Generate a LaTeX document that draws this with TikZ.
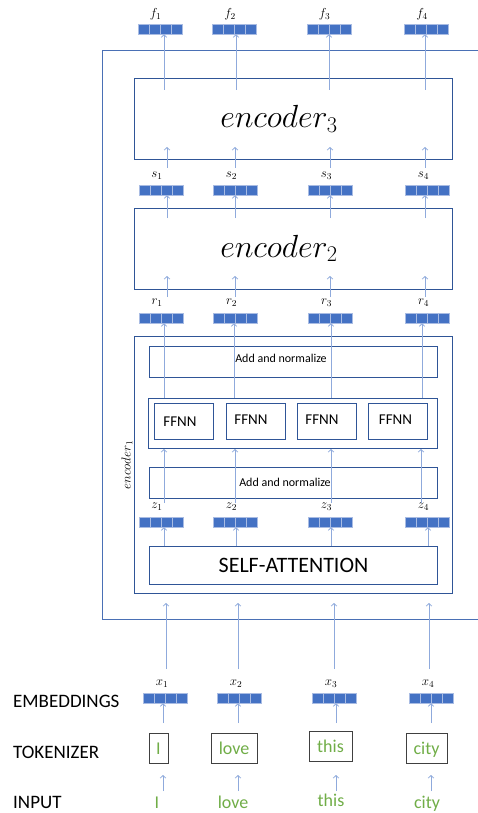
\RequirePackage{fix-cm}
\documentclass[tikz,border=0pt]{standalone}
\usepackage{fontspec}
\setmainfont{Carlito}
\usetikzlibrary{arrows.meta}
\definecolor{boxblue}{HTML}{2F5597}
\definecolor{outerblue}{HTML}{4A70B5}
\definecolor{arrblue}{HTML}{8FAADC}
\definecolor{vecblue}{HTML}{4472C4}
\definecolor{vecline}{HTML}{A9BCE3}
\definecolor{tokgreen}{HTML}{70AD47}
\definecolor{tokedge}{HTML}{404040}
\begin{document}
\begin{tikzpicture}[x=1pt,y=-1pt,
  arr/.style={draw=arrblue, line width=0.8pt, -{Straight Barb[length=2.5pt,width=5.5pt]}},
  blk/.style={draw=boxblue, line width=1pt, inner sep=0pt, anchor=north west},
  vec/.style={draw=vecline, fill=vecblue, line width=0.6pt, minimum width=44pt, minimum height=10pt, inner sep=0pt,
    path picture={\foreach \k in {1,2,3}{\draw[vecline, line width=0.7pt] ([xshift=\k*11pt]path picture bounding box.south west) -- ([xshift=\k*11pt]path picture bounding box.north west);}}},
  lab/.style={font=\fontsize{13}{15}\selectfont, inner sep=0pt},
  enctext/.style={font=\fontsize{32}{38}\selectfont, inner sep=0pt, anchor=base},
  addtext/.style={font=\fontsize{12}{14}\selectfont, inner sep=0pt},
  fftext/.style={font=\fontsize{15}{18}\selectfont, inner sep=0pt},
  side/.style={font=\fontsize{19}{22}\selectfont, inner sep=0pt, anchor=base west},
  tok/.style={draw=tokedge, line width=1pt, inner sep=0pt, text=tokgreen, font=\fontsize{18}{21}\selectfont, text height=12.4pt, text depth=0pt},
  word/.style={text=tokgreen, font=\fontsize{18}{21}\selectfont, inner sep=0pt, anchor=base}
]
\useasboundingbox (0,0) rectangle (478,813);

% outer box
\node[draw=outerblue, line width=1pt, inner sep=0pt, anchor=north west, minimum width=380pt, minimum height=569pt] (outer) at (102,50) {};

% encoder boxes
\node[blk, minimum width=318pt, minimum height=81pt] (enc3) at (134,78) {};
\node[enctext] (enc3t) at (279,128) {$encoder_3$};
\node[blk, minimum width=318pt, minimum height=81pt] (enc2) at (134,208) {};
\node[enctext] (enc2t) at (279,257) {$encoder_2$};
\node[blk, minimum width=318pt, minimum height=257pt] (enc1) at (134,336) {};
\node[rotate=90, font=\fontsize{13}{15}\selectfont, inner sep=0pt] (enc1t) at (127,465) {$encoder_1$};

% encoder1 internals
\node[blk, minimum width=288pt, minimum height=31pt] (addtop) at (149,346) {};
\node[addtext] (addtopt) at (281,358) {Add and normalize};
\node[blk, minimum width=289pt, minimum height=50pt] (ffo) at (148,398) {};
\node[blk, minimum width=59pt, minimum height=36pt] (ff1) at (154,403) {};
\node[blk, minimum width=59pt, minimum height=36pt] (ff2) at (226,403) {};
\node[blk, minimum width=59pt, minimum height=36pt, line width=1.3pt] (ff3) at (297,403) {};
\node[blk, minimum width=59pt, minimum height=36pt] (ff4) at (368,403) {};
\node[fftext] (ff1t) at (180,422) {FFNN};
\node[fftext] (ff2t) at (251,420) {FFNN};
\node[fftext] (ff3t) at (322,420) {FFNN};
\node[fftext] (ff4t) at (395.5,420) {FFNN};
\node[blk, minimum width=288pt, minimum height=31pt] (addbot) at (149,467) {};
\node[addtext] (addbott) at (285,482) {Add and normalize};
\node[blk, minimum width=288pt, minimum height=38pt] (sa) at (149,546) {};
\node[font=\fontsize{22}{26}\selectfont, inner sep=0pt] (sat) at (293.5,565) {SELF-ATTENTION};

% vectors and their labels
\foreach \x/\i in {160/1,234.5/2,329/3,426.5/4}{
  \node[vec] (f\i) at (\x,29) {};
  \node[lab] (fl\i) at (\x-4.5,14.5) {$f_\i$};
}
\foreach \x/\i in {161/1,235.5/2,330.5/3,427.5/4}{
  \node[vec] (s\i) at (\x,190) {};
  \node[lab] (sl\i) at (\x-4,176) {$s_\i$};
  \node[vec] (r\i) at (\x,318) {};
  \node[lab] (rl\i) at (\x-4,303) {$r_\i$};
  \node[vec] (z\i) at (\x,522) {};
  \node[lab] (zl\i) at (\x-4,507) {$z_\i$};
}
\foreach \x/\i in {165/1,239/2,334/3,431/4}{
  \node[vec] (x\i) at (\x,698) {};
  \node[lab] (xl\i) at (\x-3,683.5) {$x_\i$};
}

% left labels
\node[side] (lemb) at (13,707) {EMBEDDINGS};
\node[side] (ltok) at (13,758) {TOKENIZER};
\node[side] (linp) at (13,808) {INPUT};

% tokens
\node[tok, minimum width=19pt, minimum height=30pt] (t1) at (158.5,748) {I};
\node[tok, minimum width=46pt, minimum height=30pt] (t2) at (234,748) {love};
\node[tok, minimum width=43pt, minimum height=30pt] (t3) at (330.5,746) {this};
\node[tok, minimum width=41pt, minimum height=30pt] (t4) at (426.5,748) {city};
\node[word] (w1) at (157,808) {I};
\node[word] (w2) at (233,808) {love};
\node[word] (w3) at (331,806) {this};
\node[word] (w4) at (427,808) {city};

% arrows
\foreach \xa/\i in {164/1,236/2,329/3,425/4}{
  \coordinate (fa\i) at (\xa,90);
  \draw[arr] (fa\i) -- (fa\i |- f\i.south);
}
\foreach \xa/\i in {167/1,235/2,330/3,425/4}{
  \coordinate (sb\i) at (\xa,168);
  \coordinate (se\i) at (\xa,147);
  \draw[arr] (sb\i) -- (se\i);
  \coordinate (ea\i) at (\xa,218);
  \draw[arr] (ea\i) -- (ea\i |- s\i.south);
  \coordinate (rb\i) at (\xa,297);
  \coordinate (re\i) at (\xa,276);
  \draw[arr] (rb\i) -- (re\i);
}
\foreach \xa/\i in {164/1,234/2,331/3,422/4}{
  \coordinate (fo\i) at (\xa,398);
  \draw[arr] (fo\i) -- (fo\i |- r\i.south);
}
\foreach \xa/\i in {164/1,235/2,331/3,421/4}{
  \coordinate (zb\i) at (\xa,503);
  \draw[arr] (zb\i) -- (zb\i |- ffo.south);
}
\foreach \xa/\i in {164/1,236/2,331/3,428/4}{
  \coordinate (sa\i) at (\xa,546);
  \draw[arr] (sa\i) -- (sa\i |- z\i.south);
}
\foreach \xa/\i in {166/1,238/2,334/3,429/4}{
  \coordinate (xb\i) at (\xa,669);
  \coordinate (xe\i) at (\xa,603);
  \draw[arr] (xb\i) -- (xe\i);
}
\foreach \xa/\i in {163/1,238/2,336/3,431/4}{
  \coordinate (tb\i) at (\xa,723);
  \draw[arr] (tb\i) -- (tb\i |- x\i.south);
  \coordinate (ib\i) at (\xa,791);
  \coordinate (ie\i) at (\xa,775);
  \draw[arr] (ib\i) -- (ie\i);
}
\end{tikzpicture}
\end{document}
